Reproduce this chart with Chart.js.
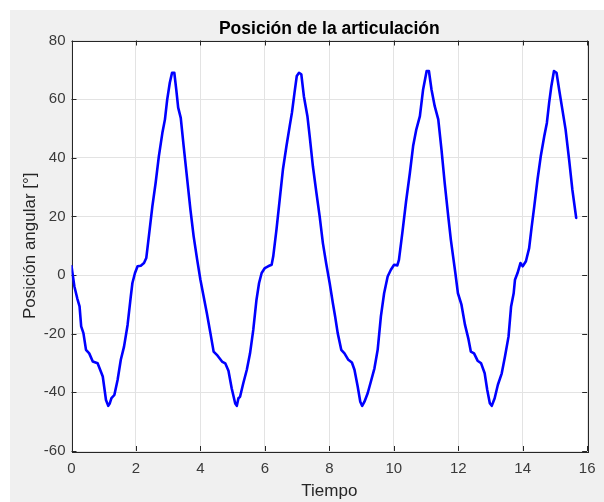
<!DOCTYPE html>
<html>
<head>
<meta charset="utf-8">
<title>Posición de la articulación</title>
<script src="https://cdn.jsdelivr.net/npm/chart.js@4.4.1/dist/chart.umd.min.js"></script>
<style>
  html, body { margin: 0; padding: 0; background: #ffffff; }
  canvas { display: block; }
</style>
</head>
<body>
<canvas id="chart" width="604" height="502"></canvas>
<script>
// Joint angle trace sampled over time (s, degrees)
const tiempo = [
  0.00, 0.09, 0.18, 0.25, 0.30, 0.37, 0.45, 0.55, 0.66, 0.81, 0.91, 0.97,
  1.07, 1.14, 1.19, 1.24, 1.33, 1.43, 1.53, 1.63, 1.74, 1.84, 1.89, 1.97,
  2.05, 2.15, 2.25, 2.32, 2.40, 2.51, 2.61, 2.71, 2.82, 2.90, 2.97, 3.05,
  3.12, 3.19, 3.25, 3.31, 3.39, 3.48, 3.59, 3.69, 3.79, 3.90, 4.00, 4.10,
  4.20, 4.31, 4.41, 4.51, 4.67, 4.77, 4.87, 4.97, 5.08, 5.13, 5.18, 5.23,
  5.33, 5.44, 5.54, 5.64, 5.74, 5.82, 5.90, 6.00, 6.10, 6.21, 6.26, 6.36,
  6.46, 6.56, 6.67, 6.77, 6.84, 6.92, 6.99, 7.06, 7.13, 7.21, 7.32, 7.39,
  7.49, 7.60, 7.70, 7.80, 7.90, 8.01, 8.11, 8.18, 8.26, 8.37, 8.47, 8.59,
  8.70, 8.78, 8.88, 8.96, 9.02, 9.09, 9.19, 9.29, 9.40, 9.50, 9.60, 9.70,
  9.81, 9.91, 10.01, 10.11, 10.16, 10.27, 10.38, 10.50, 10.60, 10.70, 10.81, 10.91,
  11.02, 11.09, 11.17, 11.27, 11.38, 11.48, 11.58, 11.69, 11.77, 11.84, 11.91, 11.99,
  12.10, 12.21, 12.31, 12.39, 12.49, 12.60, 12.71, 12.82, 12.90, 12.98, 13.04, 13.13,
  13.23, 13.35, 13.45, 13.56, 13.64, 13.72, 13.76, 13.84, 13.93, 14.00, 14.10, 14.20,
  14.28, 14.36, 14.46, 14.56, 14.67, 14.75, 14.82, 14.89, 14.97, 15.05, 15.13, 15.23,
  15.33, 15.44, 15.54, 15.66
];
const posicion = [
  3.0, -3.9, -8.0, -10.7, -17.5, -19.8, -25.5, -26.7, -29.5, -30.1, -32.9, -34.6,
  -42.6, -44.6, -43.7, -42.0, -40.9, -35.8, -28.9, -24.4, -17.0, -7.3, -2.7, 0.7,
  3.0, 3.2, 4.1, 5.8, 13.2, 23.5, 31.4, 40.5, 48.5, 53.1, 59.9, 65.6,
  69.0, 69.0, 63.3, 57.1, 53.6, 44.0, 32.6, 22.3, 13.2, 5.2, -1.6, -7.3,
  -13.0, -19.8, -26.1, -27.2, -29.5, -30.1, -32.6, -38.6, -43.8, -44.6, -42.0, -41.5,
  -36.9, -32.3, -26.7, -18.7, -8.4, -2.7, 0.7, 2.4, 3.0, 3.5, 6.4, 15.5,
  25.7, 36.0, 44.0, 50.8, 55.4, 62.2, 67.9, 69.0, 68.5, 61.0, 54.2, 47.4,
  37.1, 28.0, 20.0, 10.9, 4.1, -2.7, -9.6, -14.1, -19.8, -25.5, -26.7, -28.9,
  -29.8, -32.3, -38.0, -43.2, -44.6, -43.2, -40.3, -36.3, -31.8, -25.5, -14.1, -6.2,
  -0.5, 1.8, 3.5, 3.3, 5.2, 14.8, 25.0, 34.9, 44.0, 49.7, 54.2, 63.3,
  69.6, 69.6, 63.3, 57.6, 53.1, 42.8, 31.4, 20.0, 12.1, 6.4, 0.7, -6.2,
  -10.1, -17.0, -21.5, -26.1, -26.7, -29.2, -30.1, -33.5, -39.2, -43.7, -44.6, -42.0,
  -37.4, -33.5, -27.8, -21.0, -10.7, -6.2, -1.6, 0.7, 4.1, 3.0, 4.7, 9.2,
  16.6, 23.5, 32.6, 40.5, 47.4, 51.9, 58.7, 64.5, 69.6, 69.0, 63.3, 56.5,
  49.7, 39.4, 29.2, 19.5
];

// Axis limits and tick spacing
const xLimits = [0, 16];
const xStep = 2;
const yLimits = [-60, 80];
const yStep = 20;

const titulo = 'Posición de la articulación';
const etiquetaX = 'Tiempo';
const etiquetaY = 'Posición angular [°]';

const FONT = '"Liberation Sans", Arial, Helvetica, sans-serif';
const AXIS_COLOR = '#262626';
const LABEL_COLOR = '#3a3a3a';
const GRID_COLOR = '#e3e3e3';
const FIG_COLOR = '#f0f0f0';

// Figure background, white axes box, outline and inward tick marks
const figurePlugin = {
  id: 'figureFrame',
  beforeDraw(chart) {
    const ctx = chart.ctx;
    const a = chart.chartArea;
    ctx.save();
    ctx.fillStyle = '#ffffff';
    ctx.fillRect(0, 0, chart.width, chart.height);
    ctx.fillStyle = FIG_COLOR;
    ctx.fillRect(10, 10, chart.width - 10, chart.height - 10);
    ctx.fillStyle = '#ffffff';
    ctx.fillRect(a.left, a.top, a.right - a.left, a.bottom - a.top);
    ctx.restore();
  },
  beforeDatasetsDraw(chart) {
    const ctx = chart.ctx;
    const a = chart.chartArea;
    const xs = chart.scales.x;
    const ys = chart.scales.y;
    const len = 5;
    ctx.save();
    ctx.strokeStyle = AXIS_COLOR;
    ctx.lineWidth = 1;
    ctx.beginPath();
    xs.ticks.forEach(t => {
      const px = Math.round(xs.getPixelForValue(t.value)) + 0.5;
      ctx.moveTo(px, a.bottom); ctx.lineTo(px, a.bottom - len);
      ctx.moveTo(px, a.top); ctx.lineTo(px, a.top + len);
    });
    ys.ticks.forEach(t => {
      const py = Math.round(ys.getPixelForValue(t.value)) + 0.5;
      ctx.moveTo(a.left, py); ctx.lineTo(a.left + len, py);
      ctx.moveTo(a.right, py); ctx.lineTo(a.right - len, py);
    });
    ctx.stroke();
    ctx.strokeRect(Math.round(a.left) + 0.5, Math.round(a.top) + 0.5,
                   Math.round(a.right - a.left), Math.round(a.bottom - a.top));
    ctx.restore();
  }
};

new Chart(document.getElementById('chart'), {
  type: 'scatter',
  data: {
    datasets: [{
      data: tiempo.map((t, i) => ({ x: t, y: posicion[i] })),
      showLine: true,
      borderColor: '#0000ff',
      backgroundColor: '#0000ff',
      borderWidth: 2.6,
      borderJoinStyle: 'round',
      borderCapStyle: 'round',
      pointRadius: 0,
      tension: 0
    }]
  },
  options: {
    responsive: false,
    animation: false,
    devicePixelRatio: 1,
    layout: { padding: { left: 10, top: 10, right: 14, bottom: 0 } },
    plugins: {
      legend: { display: false },
      tooltip: { enabled: false },
      title: {
        display: true,
        fullSize: false,
        text: titulo,
        color: '#000000',
        font: { family: FONT, size: 17.5, weight: 'bold' },
        padding: { top: 8.5, bottom: 1.0 }
      }
    },
    scales: {
      x: {
        type: 'linear',
        min: xLimits[0],
        max: xLimits[1],
        afterFit(scale) { scale.height = 51; },
        border: { display: false },
        grid: { color: GRID_COLOR, drawTicks: false, lineWidth: 1 },
        ticks: {
          stepSize: xStep,
          color: LABEL_COLOR,
          padding: 8.5,
          maxRotation: 0,
          font: { family: FONT, size: 15 }
        },
        title: {
          display: true,
          text: etiquetaX,
          color: AXIS_COLOR,
          font: { family: FONT, size: 17 },
          padding: { top: 0, bottom: 0 }
        }
      },
      y: {
        type: 'linear',
        min: yLimits[0],
        max: yLimits[1],
        afterFit(scale) { scale.width = 61.5; },
        border: { display: false },
        grid: { color: GRID_COLOR, drawTicks: false, lineWidth: 1 },
        ticks: {
          stepSize: yStep,
          color: LABEL_COLOR,
          padding: 6,
          font: { family: FONT, size: 15 }
        },
        title: {
          display: true,
          text: etiquetaY,
          color: AXIS_COLOR,
          font: { family: FONT, size: 17 },
          padding: { top: 10.5, bottom: 0 }
        }
      }
    }
  },
  plugins: [figurePlugin]
});
</script>
</body>
</html>
